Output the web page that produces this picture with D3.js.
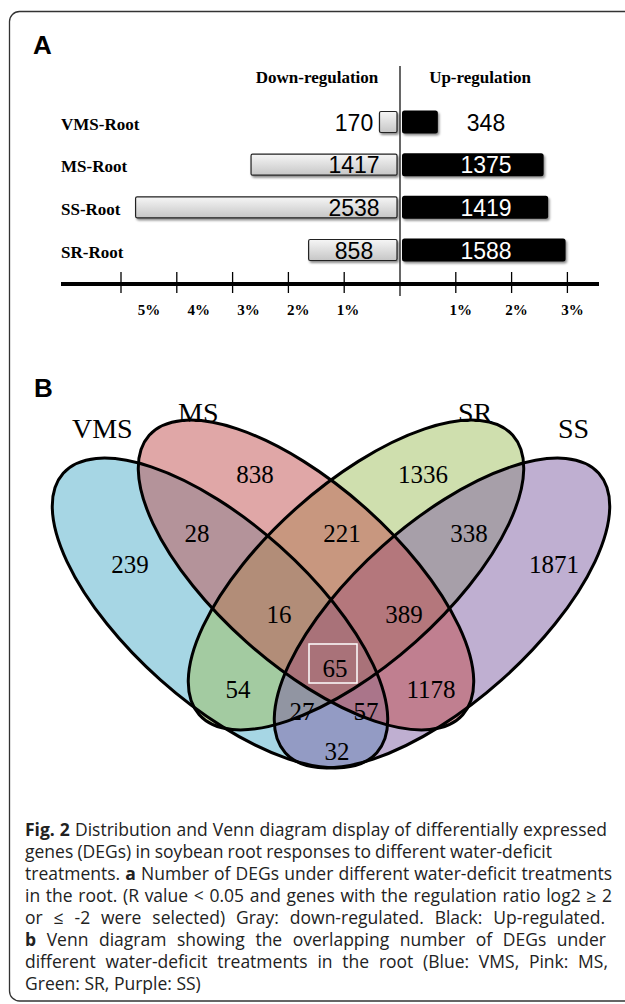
<!DOCTYPE html>
<html>
<head>
<meta charset="utf-8">
<script src="https://cdn.jsdelivr.net/npm/d3@7"></script>
<style>
  body { margin: 0; background: #fff; }
</style>
</head>
<body>
<div id="fig"></div>
<script>
// ---- panel A data ----
const treatments = ["VMS-Root", "MS-Root", "SS-Root", "SR-Root"];
const downCounts = [170, 1417, 2538, 858];
const upCounts = [348, 1375, 1419, 1588];
const totalGenes = 54175;          // soybean gene models, used for the % axis
const leftTicks = [5, 4, 3, 2, 1];
const rightTicks = [1, 2, 3];

// ---- panel B data ----
const vennSets = ["VMS", "MS", "SR", "SS"];
const vennColors = ["#4dadc9", "#c14f4f", "#9fbf5d", "#7f5fa3"];
const regionCounts = [239, 838, 1336, 1871, 28, 221, 338, 16, 389, 65, 54, 1178, 27, 57, 32];

// ---- caption ----
const captionLines = [
  [["Fig. 2", true], [" Distribution and Venn diagram display of differentially expressed", false]],
  [["genes (DEGs) in soybean root responses to different water-deficit", false]],
  [["treatments. ", false], ["a", true], [" Number of DEGs under different water-deficit treatments", false]],
  [["in the root. (R value < 0.05 and genes with the regulation ratio log2 \u2265 2", false]],
  [["or \u2264 -2 were selected) Gray: down-regulated. Black: Up-regulated.", false]],
  [["b", true], [" Venn diagram showing the overlapping number of DEGs under", false]],
  [["different water-deficit treatments in the root (Blue: VMS, Pink: MS,", false]],
  [["Green: SR, Purple: SS)", false]]
];

const width = 625, height = 1004;
const serif = "'Liberation Serif', 'DejaVu Serif', serif";
const sans = "'Liberation Sans', Arial, sans-serif";

const svg = d3.select("#fig").append("svg")
    .attr("width", width)
    .attr("height", height);

const defs = svg.append("defs");
let grad = defs.append("linearGradient")
    .attr("id", "grayBar")
    .attr("x1", 0).attr("y1", 0).attr("x2", 0).attr("y2", 1);
grad.append("stop").attr("offset", "0%").attr("stop-color", "#f6f6f6");
grad.append("stop").attr("offset", "100%").attr("stop-color", "#c6c6c6");

defs.append("filter").attr("id", "shadow")
    .attr("x", "-10%").attr("y", "-30%").attr("width", "130%").attr("height", "180%")
  .append("feDropShadow")
    .attr("dx", 1.5).attr("dy", 2).attr("stdDeviation", 1.3)
    .attr("flood-color", "#000").attr("flood-opacity", 0.45);

// outer frame
svg.append("rect")
    .attr("x", 9.5).attr("y", 11.5)
    .attr("width", 700).attr("height", 989.5)
    .attr("rx", 10)
    .attr("fill", "none")
    .attr("stroke", "#333")
    .attr("stroke-width", 1.3);

// ================= Panel A =================
svg.append("text")
    .attr("x", 33).attr("y", 54)
    .style("font-family", sans).style("font-weight", "bold").style("font-size", "26px")
    .text("A");

let gA = svg.append("g");

// 1% of all genes is ~56 px
let x = d3.scaleLinear()
    .domain([-5, 3])
    .range([400 - 5 * 55.8, 400 + 3 * 55.8]);

let y = d3.scalePoint()
    .domain(treatments)
    .range([122, 250]);

const pct = c => c / totalGenes * 100;
const barH = 21;

// headers
gA.append("text")
    .attr("x", 317).attr("y", 83)
    .attr("text-anchor", "middle")
    .style("font-family", serif).style("font-weight", "bold").style("font-size", "17px")
    .text("Down-regulation");
gA.append("text")
    .attr("x", 480).attr("y", 83)
    .attr("text-anchor", "middle")
    .style("font-family", serif).style("font-weight", "bold").style("font-size", "17px")
    .text("Up-regulation");

// row labels
gA.selectAll(".rowlab")
    .data(treatments)
    .enter()
    .append("text")
    .attr("class", "rowlab")
    .attr("x", 61)
    .attr("y", d => y(d) + 7.5)
    .style("font-family", serif).style("font-weight", "bold").style("font-size", "17px")
    .text(d => d);

// down bars (gray)
gA.selectAll(".down")
    .data(downCounts)
    .enter()
    .append("rect")
    .attr("class", "down")
    .attr("x", d => x(-pct(d)) - 3)
    .attr("y", (d, i) => y(treatments[i]) - barH / 2)
    .attr("width", d => x(0) - x(-pct(d)))
    .attr("height", barH)
    .attr("rx", 1.5)
    .attr("fill", "url(#grayBar)")
    .attr("stroke", "#222")
    .attr("stroke-width", 1.2)
    .attr("filter", "url(#shadow)");

// up bars (black)
gA.selectAll(".up")
    .data(upCounts)
    .enter()
    .append("rect")
    .attr("class", "up")
    .attr("x", x(0) + 2)
    .attr("y", (d, i) => y(treatments[i]) - barH / 2 - 1)
    .attr("width", d => x(pct(d)) - x(0))
    .attr("height", barH + 2)
    .attr("rx", 2.5)
    .attr("fill", "#000")
    .attr("filter", "url(#shadow)");

// count labels
gA.selectAll(".downlab")
    .data(downCounts)
    .enter()
    .append("text")
    .attr("x", x(0) - 46)
    .attr("y", (d, i) => y(treatments[i]) + 8.5)
    .attr("text-anchor", "middle")
    .style("font-family", sans).style("font-size", "23px")
    .attr("fill", "#000")
    .text(d => d);

gA.selectAll(".uplab")
    .data(upCounts)
    .enter()
    .append("text")
    .attr("x", x(0) + 86)
    .attr("y", (d, i) => y(treatments[i]) + 8.5)
    .attr("text-anchor", "middle")
    .style("font-family", sans).style("font-size", "23px")
    // white when the number sits on the black bar
    .attr("fill", d => x(pct(d)) > x(0) + 100 ? "#fff" : "#000")
    .text(d => d);

// axis
const axisY = 284;
gA.append("line")
    .attr("x1", 61).attr("x2", 599)
    .attr("y1", axisY).attr("y2", axisY)
    .attr("stroke", "#000").attr("stroke-width", 4);

gA.selectAll(".ltick")
    .data(leftTicks)
    .enter()
    .append("line")
    .attr("x1", d => x(-d)).attr("x2", d => x(-d))
    .attr("y1", axisY - 12).attr("y2", axisY + 9)
    .attr("stroke", "#000").attr("stroke-width", 1.3);

gA.selectAll(".rtick")
    .data(rightTicks)
    .enter()
    .append("line")
    .attr("x1", d => x(d)).attr("x2", d => x(d))
    .attr("y1", axisY - 12).attr("y2", axisY + 9)
    .attr("stroke", "#000").attr("stroke-width", 1.3);

// centre line
gA.append("line")
    .attr("x1", x(0)).attr("x2", x(0))
    .attr("y1", 66).attr("y2", 296)
    .attr("stroke", "#000").attr("stroke-width", 1.2);

// tick labels; the left ones are spaced a bit tighter than the ticks
let leftLab = d3.scaleLinear().domain([1, 5]).range([348, 149]);
gA.selectAll(".llab")
    .data(leftTicks)
    .enter()
    .append("text")
    .attr("x", d => leftLab(d))
    .attr("y", 315)
    .attr("text-anchor", "middle")
    .style("font-family", serif).style("font-weight", "bold").style("font-size", "15px")
    .text(d => d + "%");

gA.selectAll(".rlab")
    .data(rightTicks)
    .enter()
    .append("text")
    .attr("x", d => x(d) + 5)
    .attr("y", 315)
    .attr("text-anchor", "middle")
    .style("font-family", serif).style("font-weight", "bold").style("font-size", "15px")
    .text(d => d + "%");

// ================= Panel B =================
svg.append("text")
    .attr("x", 34).attr("y", 397)
    .style("font-family", sans).style("font-weight", "bold").style("font-size", "26px")
    .text("B");

let gB = svg.append("g");

// ellipse layout (VMS, MS, SR, SS)
const ellRx = 210, ellRy = 89.6, tilt = 41.7;
const ellipses = [
  { cx: 220, cy: 613, rot: tilt },
  { cx: 306, cy: 575, rot: tilt },
  { cx: 356, cy: 575, rot: -tilt },
  { cx: 442, cy: 613, rot: -tilt }
];
const fillOrder = [0, 2, 3, 1];

gB.selectAll(".efill")
    .data(fillOrder)
    .enter()
    .append("ellipse")
    .attr("class", "efill")
    .attr("transform", i => `translate(${ellipses[i].cx},${ellipses[i].cy}) rotate(${ellipses[i].rot})`)
    .attr("rx", ellRx).attr("ry", ellRy)
    .attr("fill", i => vennColors[i])
    .attr("fill-opacity", 0.5);

// set names
const setLabelPos = [[72, 438], [178, 422], [458, 422], [558, 438]];
gB.selectAll(".setlab")
    .data(vennSets)
    .enter()
    .append("text")
    .attr("x", (d, i) => setLabelPos[i][0])
    .attr("y", (d, i) => setLabelPos[i][1])
    .style("font-family", serif).style("font-size", "28px")
    .text(d => d);

// region counts, centre / baseline of each label
const regionPos = [
  [130, 573], [255, 483], [423, 483], [554, 573],
  [197, 542], [342, 542], [469, 542],
  [279, 623], [404, 623], [335, 677],
  [238, 698], [431, 698], [302, 720], [366, 720], [337, 760]
];
gB.selectAll(".reglab")
    .data(regionCounts)
    .enter()
    .append("text")
    .attr("x", (d, i) => regionPos[i][0])
    .attr("y", (d, i) => regionPos[i][1])
    .attr("text-anchor", "middle")
    .style("font-family", serif).style("font-size", "25px")
    .text(d => d);

// highlight box around the four-way overlap
gB.append("rect")
    .attr("x", 309).attr("y", 644)
    .attr("width", 48).attr("height", 39)
    .attr("fill", "none")
    .attr("stroke", "#fff")
    .attr("stroke-width", 1.5);

gB.selectAll(".eline")
    .data(ellipses)
    .enter()
    .append("ellipse")
    .attr("class", "eline")
    .attr("transform", d => `translate(${d.cx},${d.cy}) rotate(${d.rot})`)
    .attr("rx", ellRx).attr("ry", ellRy)
    .attr("fill", "none")
    .attr("stroke", "#000")
    .attr("stroke-width", 3);

// ================= Caption =================
// partly justified: word gaps are widened so each line ends where it does in the print
const capX = 25, capY = 836, capStep = 22;
const capLineEnds = [607, 552, 612, 612, 605, 606, 608, null];
captionLines.forEach((line, i) => {
    let t = svg.append("text")
        .attr("x", capX)
        .attr("y", capY + i * capStep)
        .style("font-family", "'Open Sans', sans-serif")
        .style("font-size", "17.5px")
        .attr("fill", "#222");
    line.forEach(seg => {
        t.append("tspan")
            .style("font-weight", seg[1] ? "bold" : "normal")
            .text(seg[0]);
    });
    if (capLineEnds[i] !== null) {
        let natural = t.node().getComputedTextLength();
        let gaps = line.map(s => s[0]).join("").split(" ").length - 1;
        let extra = (capLineEnds[i] - capX - natural) / gaps;
        t.style("word-spacing", extra + "px");
    }
});
</script>
</body>
</html>
